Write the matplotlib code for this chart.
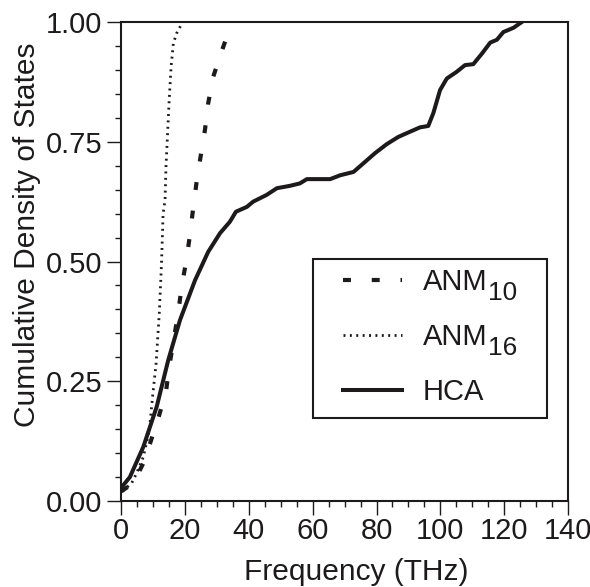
import matplotlib
matplotlib.use("Agg")
import matplotlib.pyplot as plt
from matplotlib.patches import Rectangle
from matplotlib.ticker import MultipleLocator, FormatStrFormatter

plt.rcParams['font.family'] = ['Liberation Sans', 'DejaVu Sans']

# HCA
hca_x = [0, 2.8, 7, 11.2, 14.8, 18.5, 23.2, 27.3, 31, 34.1, 36, 39.4, 41.4, 45.6, 48.8,
         52.9, 56, 58.2, 65.5, 68.6, 72.8, 75.9, 79.5, 83.2, 86.8, 90.5, 93.6, 96.2,
         97.8, 99.9, 102, 105.1, 107.7, 110.3, 113, 115.6, 117.7, 119.7, 122.9, 125.5]
hca_y = [0.027, 0.05, 0.113, 0.197, 0.294, 0.378, 0.461, 0.52, 0.559, 0.583, 0.604, 0.614,
         0.625, 0.639, 0.653, 0.658, 0.663, 0.672, 0.672, 0.68, 0.687, 0.705, 0.726, 0.745,
         0.76, 0.771, 0.78, 0.783, 0.81, 0.858, 0.882, 0.896, 0.91, 0.912, 0.934, 0.957,
         0.963, 0.979, 0.988, 1.0]

# ANM10
anm10_x = [0, 3.9, 7, 9.1, 11.7, 14.1, 15.1, 17.9, 19, 20.4, 21.6, 22.6, 23.7, 25, 26.3,
           27.3, 28.9, 31.5, 34.7]
anm10_y = [0.02, 0.037, 0.079, 0.12, 0.173, 0.228, 0.28, 0.392, 0.447, 0.5, 0.555, 0.611,
           0.667, 0.722, 0.775, 0.83, 0.886, 0.938, 0.999]

# ANM16
anm16_x = [0.5, 3.4, 4.9, 7, 8.9, 9.9, 11, 12, 12.7, 13.2, 13.8, 14.1, 14.6, 15.1, 15.7,
           16.4, 17.4, 19]
anm16_y = [0.02, 0.038, 0.058, 0.092, 0.148, 0.218, 0.287, 0.392, 0.496, 0.6, 0.628,
           0.698, 0.768, 0.837, 0.907, 0.955, 0.976, 0.996]

labels = ['ANM', 'ANM', 'HCA']
subscripts = ['10', '16', '']
x_ticks = [0, 20, 40, 60, 80, 100, 120, 140]
y_ticks = [0.00, 0.25, 0.50, 0.75, 1.00]

ink = '#1c1a1b'
fs = 21
fig = plt.figure(figsize=(5.9, 5.87), dpi=100)
ax = fig.add_axes([0.205, 0.1465, 0.758, 0.816])

ax.plot(anm10_x, anm10_y, color=ink, lw=3.0, dashes=(1.9, 5), label=labels[0])
ax.plot(anm16_x, anm16_y, color=ink, lw=2.0, dashes=(0.7, 1.6), label=labels[1])
ax.plot(hca_x, hca_y, color=ink, lw=2.9, label=labels[2])

ax.set_xlim(0, 140)
ax.set_ylim(0, 1.0)
ax.set_xticks(x_ticks)
ax.set_yticks(y_ticks)
ax.xaxis.set_minor_locator(MultipleLocator(5))
ax.yaxis.set_minor_locator(MultipleLocator(0.05))
ax.yaxis.set_major_formatter(FormatStrFormatter('%.2f'))
ax.tick_params(which='major', direction='out', length=10, width=1.0, labelsize=fs,
               colors=ink, top=False, right=False)
ax.tick_params(axis='x', which='major', pad=1.5)
ax.tick_params(axis='y', which='major', pad=3.5)
ax.tick_params(which='minor', direction='out', length=4, width=1.0, colors=ink,
               top=False, right=False)
for s in ax.spines.values():
    s.set_linewidth(1.5)
    s.set_color(ink)

ax.set_xlabel('Frequency (THz)', fontsize=fs + 0.5, color=ink)
ax.set_ylabel('Cumulative Density of States', fontsize=fs + 0.5, color=ink)
ax.xaxis.set_label_coords(0.527, -0.118)
ax.yaxis.set_label_coords(-0.179, 0.555)

# legend frame
ax.add_patch(Rectangle((0.43, 0.173), 0.523, 0.332, transform=ax.transAxes,
                       facecolor='white', edgecolor=ink, lw=1.5, zorder=5))
leg = ax.legend(loc='upper left', bbox_to_anchor=(0.497, 0.486),
                fontsize=fs, frameon=False, handlelength=2.0,
                handletextpad=0.72, labelspacing=0.92, borderpad=0, borderaxespad=0)
leg.set_zorder(6)
for t in leg.get_texts():
    t.set_color(ink)

fig.canvas.draw()
for t, sub in zip(leg.get_texts(), subscripts):
    if sub:
        ax.annotate(sub, xy=(1, 0), xycoords=t, xytext=(0.8, -2.9),
                    textcoords='offset points', fontsize=fs * 0.9, color=ink,
                    ha='left', va='baseline', annotation_clip=False, zorder=10)

fig.savefig('out.png', dpi=100)
